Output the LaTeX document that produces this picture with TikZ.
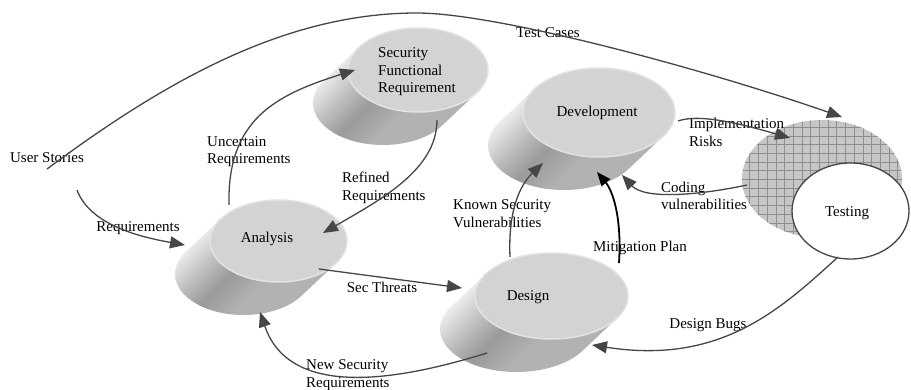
\documentclass[tikz,border=0pt]{standalone}
\usepackage{fontspec}
\setmainfont{Liberation Serif}
\usetikzlibrary{arrows.meta,shapes.geometric}

\definecolor{topface}{HTML}{D3D3D3}
\definecolor{toprim}{HTML}{E3E3E3}
\definecolor{wire}{HTML}{464646}
\definecolor{hatchbg}{HTML}{C6C6C6}
\definecolor{hatchln}{HTML}{8E8E8E}
\definecolor{bodyA}{HTML}{F0F0F0}
\definecolor{bodyB}{HTML}{C0C0C0}
\definecolor{bodyC}{HTML}{9A9A9A}
\definecolor{bodyD}{HTML}{B2B2B2}

% side of a tilted cylinder: light edge, dark band, medium underside
\pgfdeclarehorizontalshading{cylside}{100bp}{%
  color(0bp)=(bodyA); color(27bp)=(bodyA); color(37bp)=(bodyB);
  color(46bp)=(bodyC); color(57bp)=(bodyD); color(100bp)=(bodyD)}

\tikzset{
  topdisc/.style={ellipse, fill=topface, draw=toprim, line width=1.5pt, inner sep=0pt},
  lbl/.style={inner sep=0pt, font=\fontsize{15}{17.5}\selectfont},
  lbll/.style={lbl, align=left, anchor=west},
  flow/.style={draw=wire, line width=1.3pt, -{Triangle[length=15pt,width=12pt]}},
  boldflow/.style={draw=black, line width=1.8pt, -{Triangle[length=14pt,width=11pt]}},
}

% tilted cylinder: #1 name, #2 cx, #3 cy, #4 x radius, #5 y radius
\newcommand\tiltcyl[5]{%
  \pgfmathsetmacro\cylt{atan(35*#5/(33*#4))}%
  \pgfmathsetmacro\cylu{\cylt+180}%
  \shade[shading=cylside, shading angle=-45]
    ({#2+#4*cos(\cylu)},{#3+#5*sin(\cylu)}) -- ++(-35,33)
    arc[start angle=\cylu, end angle=\cylt, x radius=#4, y radius=#5]
    -- ({#2+#4*cos(\cylt)},{#3+#5*sin(\cylt)}) -- cycle;
  \node[topdisc, minimum width={2*#4}, minimum height={2*#5}] (#1) at (#2,#3) {};
}

\begin{document}
\begin{tikzpicture}[x=1pt,y=-1pt]
\useasboundingbox (0,0) rectangle (911,390);
\fill[white] (0,0) rectangle (911,390);

% process cylinders
\tiltcyl{sfr}{418}{70}{70}{42}
\tiltcyl{dev}{599}{112.5}{76}{44.5}
\tiltcyl{ana}{278.5}{241}{68.5}{41}
\tiltcyl{des}{551.5}{296}{76.5}{43}

% testing: cross-hatched disc behind a white disc
\node[ellipse, minimum width=160, minimum height=118, inner sep=0pt] (tstb) at (822,179) {};
\begin{scope}
  \clip (tstb.center) ellipse[x radius=80, y radius=59];
  \fill[hatchbg] (740,118) rectangle (905,240);
  \foreach \i in {0,...,19} \draw[hatchln, line width=0.6pt] ({741+8.7*\i},118) -- ++(0,124);
  \foreach \j in {0,...,14} \draw[hatchln, line width=0.6pt] (740,{118.5+8.7*\j}) -- ++(166,0);
\end{scope}
\node[ellipse, draw=wire, line width=1.3pt, fill=white, minimum width=117, minimum height=96, inner sep=0pt] (tst) at (850.5,211) {};

% labels
\node[lbl] (us) at (47,158) {User Stories};
\node[lbl] (tcl) at (548,33) {Test Cases};
\node[lbl] (rql) at (138,228) {Requirements};
\node[lbll] (ucl) at (207,151.5) {Uncertain\\Requirements};
\node[lbll] (rfl) at (342,188) {Refined\\Requirements};
\node[lbll] (sfrl) at (378,72) {Security\\Functional\\Requirement};
\node[lbl] (anl) at (267,239) {Analysis};
\node[lbl] (devl) at (597,113) {Development};
\node[lbl] (desl) at (528,297) {Design};
\node[lbl] (tstl) at (847,213) {Testing};
\node[lbl] (stl) at (382,287) {Sec Threats};
\node[lbll] (nsl) at (306,375) {New Security\\Requirements};
\node[lbll] (ksl) at (453,213.5) {Known Security\\Vulnerabilities};
\node[lbl] (mpl) at (640,248) {Mitigation Plan};
\node[lbll] (irl) at (689,132.5) {Implementation\\Risks};
\node[lbll] (cvl) at (661,196) {Coding\\vulnerabilities};
\node[lbl] (dbl) at (708,325) {Design Bugs};

% connector end points
\coordinate (us-top) at (47,169);
\coordinate (us-bot) at (77,190);
\coordinate (tstb-top) at (842,117);
\coordinate (ana-in) at (185,245);
\coordinate (ana-top) at (229,205);
\coordinate (sfr-in) at (355,70);
\coordinate (sfr-out) at (437,120);
\coordinate (ana-rin) at (323,233);
\coordinate (ana-out) at (319,269);
\coordinate (des-in) at (462,288);
\coordinate (des-out) at (487,353);
\coordinate (ana-bin) at (260,312);
\coordinate (des-top) at (510,257);
\coordinate (dev-lin) at (543,163);
\coordinate (des-rtop) at (619,263);
\coordinate (dev-in) at (597,172);
\coordinate (dev-out) at (678,121);
\coordinate (tstb-in) at (790,138);
\coordinate (tstb-out) at (747,185);
\coordinate (dev-rin) at (622,175);
\coordinate (tst-out) at (838,257);
\coordinate (des-rin) at (592,345);

% connectors
\draw[flow] (us-top) .. controls (168,79) and (287,13) .. (417,13)
                      .. controls (497,13) and (704,69) .. (tstb-top);
\draw[flow] (us-bot) .. controls (90,225) and (140,237) .. (ana-in);
\draw[flow] (ana-top) .. controls (227,120) and (275,95) .. (sfr-in);
\draw[flow] (sfr-out) .. controls (437,170) and (380,200) .. (ana-rin);
\draw[flow] (ana-out) -- (des-in);
\draw[flow] (des-out) .. controls (400,380) and (290,400) .. (ana-bin);
\draw[flow] (des-top) .. controls (508,210) and (520,185) .. (dev-lin);
\draw[boldflow] (des-rtop) .. controls (622,215) and (612,190) .. (dev-in);
\draw[flow] (dev-out) .. controls (700,113) and (745,125) .. (tstb-in);
\draw[flow] (tstb-out) .. controls (700,195) and (645,200) .. (dev-rin);
\draw[flow] (tst-out) .. controls (780,310) and (720,365) .. (des-rin);
\end{tikzpicture}
\end{document}
